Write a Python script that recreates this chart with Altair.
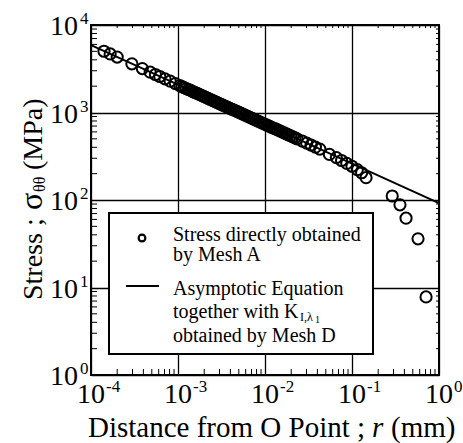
import altair as alt
import pandas as pd

# ---------------- data ----------------
r_mesh_a = [1.41e-4, 1.66e-4, 2.00e-4, 2.95e-4, 3.89e-4, 4.79e-4, 5.50e-4, 6.17e-4,
            7.08e-4, 8.13e-4, 9.33e-4, 1.05e-3, 1.109e-3, 1.17e-3, 1.245e-3, 1.32e-3,
            1.396e-3, 1.48e-3, 1.567e-3, 1.66e-3, 1.758e-3, 1.86e-3, 1.972e-3, 2.09e-3,
            2.213e-3, 2.34e-3, 2.483e-3, 2.63e-3, 2.786e-3, 2.95e-3, 3.126e-3, 3.31e-3,
            3.508e-3, 3.72e-3, 3.936e-3, 4.17e-3, 4.416e-3, 4.68e-3, 4.955e-3, 5.25e-3,
            5.559e-3, 5.89e-3, 6.237e-3, 6.61e-3, 6.998e-3, 7.41e-3, 7.852e-3, 8.32e-3,
            8.810e-3, 9.33e-3, 9.886e-3, 1.05e-2, 1.109e-2, 1.17e-2, 1.245e-2, 1.32e-2,
            1.396e-2, 1.48e-2, 1.567e-2, 1.66e-2, 1.758e-2, 1.86e-2, 1.972e-2, 2.09e-2,
            2.213e-2, 2.34e-2, 2.69e-2, 3.02e-2, 3.39e-2, 3.80e-2, 4.27e-2, 5.50e-2,
            6.61e-2, 7.59e-2, 8.71e-2, 0.100, 0.115, 0.129, 0.145,
            0.29, 0.356, 0.418, 0.574, 0.71]
stress_mesh_a = [5012, 4667, 4295, 3597, 3177, 2891, 2718, 2580,
                 2424, 2278, 2141, 2032, 1982, 1928, 1880, 1832,
                 1786, 1738, 1694, 1651, 1610, 1567, 1528, 1488,
                 1449, 1413, 1377, 1342, 1306, 1274, 1242, 1209,
                 1178, 1148, 1119, 1090, 1062, 1035, 1009, 982,
                 957, 933, 908, 885, 863, 841, 819, 798,
                 778, 758, 738, 720, 701, 683, 665, 649,
                 632, 616, 600, 584, 569, 555, 541, 527,
                 513, 500, 470, 446, 424, 402, 382, 332,
                 305, 283, 262, 243, 222, 205, 180,
                 111, 88, 62, 36, 7.8]

r_asym = [1e-4, 1.0]
stress_asym = [5900, 92]

x_decades = [1e-4, 1e-3, 1e-2, 1e-1, 1.0]
x_exponents = ["-4", "-3", "-2", "-1", "0"]
y_decades = [1.0, 10.0, 100.0, 1000.0, 10000.0]
y_exponents = ["0", "1", "2", "3", "4"]
minor_mult = [2, 3, 4, 5, 6, 7, 8, 9]

x_minor = [m * d for d in x_decades[:-1] for m in minor_mult]
y_minor = [m * d for d in y_decades[:-1] for m in minor_mult]

FONT = "Liberation Serif"
W, H = 348, 350

xs = alt.Scale(type="log", domain=[1e-4, 1.0])
ys = alt.Scale(type="log", domain=[1.0, 1e4])
ax_x = alt.Axis(values=x_decades, grid=True, gridColor="black", gridWidth=1.3,
                gridOpacity=1, labels=False, ticks=False, domain=False, title=None)
ax_y = alt.Axis(values=y_decades, grid=True, gridColor="black", gridWidth=1.3,
                gridOpacity=1, labels=False, ticks=False, domain=False, title=None)


def X(f):
    return alt.X(f, scale=xs, axis=ax_x)


def Y(f):
    return alt.Y(f, scale=ys, axis=ax_y)


pts = pd.DataFrame({"r": r_mesh_a, "s": stress_mesh_a})
line_df = pd.DataFrame({"r": r_asym, "s": stress_asym})
xd = pd.DataFrame({"v": x_decades, "e": x_exponents})
yd = pd.DataFrame({"v": y_decades, "e": y_exponents})
xm = pd.DataFrame({"v": x_minor})
ym = pd.DataFrame({"v": y_minor})
one = pd.DataFrame({"a": [0]})

points = alt.Chart(pts).mark_point(shape="circle", filled=False, size=125,
                                   strokeWidth=2, color="black", opacity=1).encode(
    x=X("r:Q"), y=Y("s:Q"))

asym = alt.Chart(line_df).mark_line(color="black", strokeWidth=2).encode(
    x=X("r:Q"), y=Y("s:Q"))

# inward minor ticks
t_left = alt.Chart(ym).mark_rule(color="black", strokeWidth=1).encode(
    x=alt.value(0), x2=alt.value(6), y=Y("v:Q"))
t_right = alt.Chart(ym).mark_rule(color="black", strokeWidth=1).encode(
    x=alt.value(W - 3), x2=alt.value(W), y=Y("v:Q"))
t_bottom = alt.Chart(xm).mark_rule(color="black", strokeWidth=1).encode(
    y=alt.value(H - 6), y2=alt.value(H), x=X("v:Q"))
t_top = alt.Chart(xm).mark_rule(color="black", strokeWidth=1).encode(
    y=alt.value(0), y2=alt.value(3), x=X("v:Q"))

# tick labels 10^n
xl_base = alt.Chart(xd).mark_text(text="10", font=FONT, fontSize=28, align="center",
                                  baseline="alphabetic", color="black").encode(
    x=X("v:Q"), y=alt.value(H + 28))
xl_exp = alt.Chart(xd).mark_text(font=FONT, fontSize=17, align="left", dx=15,
                                 baseline="alphabetic", color="black").encode(
    x=X("v:Q"), y=alt.value(H + 17), text="e:N")
yl_base = alt.Chart(yd).mark_text(text="10", font=FONT, fontSize=28, align="right",
                                  baseline="alphabetic", dy=10, color="black").encode(
    y=Y("v:Q"), x=alt.value(-13))
yl_exp = alt.Chart(yd).mark_text(font=FONT, fontSize=17, align="left",
                                 baseline="alphabetic", dy=-1, color="black").encode(
    y=Y("v:Q"), x=alt.value(-11), text="e:N")


def label(txt, x, y, size=20, align="left", angle=0, style="normal"):
    kw = dict(text=txt, font=FONT, fontSize=size, align=align,
              baseline="alphabetic", color="black", fontStyle=style)
    if angle:
        kw["angle"] = angle
    return alt.Chart(one).mark_text(**kw).encode(x=alt.value(x), y=alt.value(y))


# legend
leg_box = alt.Chart(one).mark_rect(fill="white", stroke="black", strokeWidth=2).encode(
    x=alt.value(18), x2=alt.value(282), y=alt.value(188), y2=alt.value(329))
leg_pt = alt.Chart(one).mark_point(shape="circle", filled=False, size=45, strokeWidth=2.2,
                                   color="black", opacity=1).encode(
    x=alt.value(51), y=alt.value(213))
leg_ln = alt.Chart(one).mark_rule(color="black", strokeWidth=2).encode(
    x=alt.value(35), x2=alt.value(68), y=alt.value(261))
leg_texts = [
    label("Stress directly obtained", 82, 216),
    label("by Mesh A", 82, 236),
    label("Asymptotic Equation", 82, 270),
    label("together with K", 82, 293),
    label("I,λ", 209, 296, size=12),
    label("1", 224, 298, size=10),
    label("obtained by Mesh D", 82, 317),
]

# axis titles
titles = [
    label("Distance from O Point ; ", -3, 412, size=29),
    label("r", 281, 412, size=29, style="italic"),
    label("(mm)", 300, 412, size=29),
    label("Stress ;", -49, 275, size=28, angle=270),
    label("σ", -49, 185, size=32, angle=270),
    label("θθ", -46, 167, size=16, angle=270),
    label("(MPa)", -49, 145, size=28, angle=270),
]

chart = alt.layer(
    points, asym, t_left, t_right, t_bottom, t_top,
    xl_base, xl_exp, yl_base, yl_exp,
    leg_box, leg_pt, leg_ln, *leg_texts, *titles,
).properties(
    width=W, height=H,
    autosize=alt.AutoSizeParams(type="none"),
    padding={"left": 91, "top": 25, "right": 24, "bottom": 68},
    background="white",
).configure_view(stroke="black", strokeWidth=2)

chart.save("out.html", embed_options={"renderer": "svg", "actions": False})
